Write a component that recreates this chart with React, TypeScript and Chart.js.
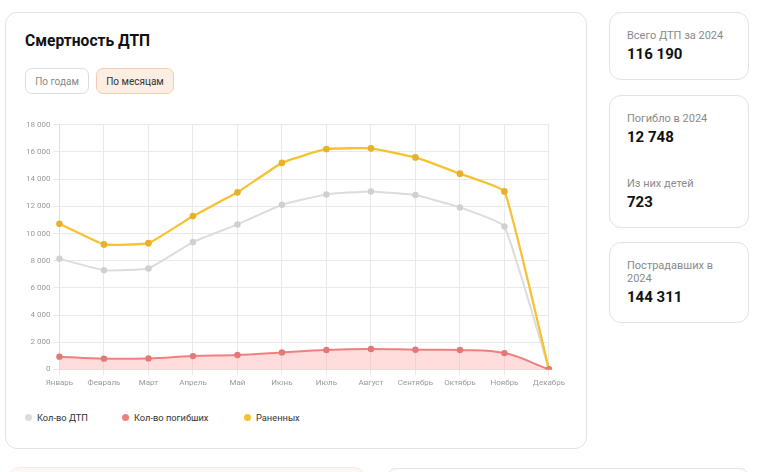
import React, { useEffect, useRef } from "react";
import { Chart, registerables } from "chart.js";

Chart.register(...registerables);

const months = ["Январь", "Февраль", "Март", "Апрель", "Май", "Июнь", "Июль", "Август", "Сентябрь", "Октябрь", "Ноябрь", "Декабрь"];
const accidents = [8140, 7300, 7420, 9370, 10670, 12120, 12880, 13100, 12830, 11920, 10520, 0];
const deaths = [940, 790, 810, 980, 1060, 1250, 1430, 1500, 1450, 1430, 1200, 0];
const injured = [10720, 9200, 9290, 11280, 13030, 15200, 16220, 16270, 15600, 14400, 13100, 0];
const seriesNames = ["Кол-во ДТП", "Кол-во погибших", "Раненных"];
const seriesColors = ["#dcdcdc", "#f08080", "#f6c232"];
const yTicks = [0, 2000, 4000, 6000, 8000, 10000, 12000, 14000, 16000, 18000];

const FONT = "Roboto, 'Noto Sans', sans-serif";

function fmt(v: number): string {
  return String(v).replace(/\B(?=(\d{3})+(?!\d))/g, " ");
}

function ChartBox() {
  const ref = useRef<HTMLCanvasElement | null>(null);
  useEffect(() => {
    if (!ref.current) return;
    const chart = new Chart(ref.current, {
      type: "line",
      data: {
        labels: months,
        datasets: [
          {
            label: seriesNames[0],
            data: accidents,
            order: 2,
            borderColor: seriesColors[0],
            backgroundColor: seriesColors[0],
            pointBackgroundColor: "#d0d0d0",
            pointBorderColor: "#d0d0d0",
            borderWidth: 2,
            pointRadius: 2.2,
            tension: 0.1,
            fill: false,
          },
          {
            label: seriesNames[1],
            data: deaths,
            order: 0,
            borderColor: seriesColors[1],
            backgroundColor: "rgba(255, 170, 170, 0.4)",
            pointBackgroundColor: "#e37878",
            pointBorderColor: "#e37878",
            borderWidth: 2,
            pointRadius: 2.2,
            tension: 0.4,
            fill: "origin",
          },
          {
            label: seriesNames[2],
            data: injured,
            order: 1,
            borderColor: seriesColors[2],
            backgroundColor: seriesColors[2],
            pointBackgroundColor: "#e6b22c",
            pointBorderColor: "#e6b22c",
            borderWidth: 2.3,
            pointRadius: 2.2,
            tension: 0.1,
            fill: false,
          },
        ],
      },
      options: {
        animation: false,
        responsive: false,
        maintainAspectRatio: false,
        layout: { padding: 0 },
        plugins: {
          tooltip: { enabled: false },
          legend: { display: false },
        },
        scales: {
          x: {
            grid: { color: "#e9e9e9", tickLength: 6 },
            border: { color: "#e0e0e0" },
            ticks: { color: "#999", font: { family: FONT, size: 8 }, maxRotation: 0, autoSkip: false, padding: 3 },
          },
          y: {
            min: 0,
            max: 18000,
            afterBuildTicks: (axis: any) => {
              axis.ticks = yTicks.map((v) => ({ value: v }));
            },
            grid: { color: "#e9e9e9", tickLength: 6 },
            border: { color: "#e0e0e0" },
            ticks: {
              color: "#999",
              font: { family: FONT, size: 8 },
              padding: 3,
              callback: (v: any) => fmt(Number(v)),
            },
          },
        },
      },
    });
    return () => chart.destroy();
  }, []);
  return (
    <canvas
      ref={ref}
      width={545}
      height={274}
      style={{ position: "absolute", left: 23, top: 117, width: 545, height: 274 }}
    />
  );
}

const cardStyle: React.CSSProperties = {
  position: "absolute",
  background: "#fff",
  border: "1px solid #e2e2e2",
  borderRadius: 12,
  boxSizing: "border-box",
};

const label: React.CSSProperties = { position: "absolute", left: 17, fontSize: 11, color: "#8a8a8a", lineHeight: "13px" };
const value: React.CSSProperties = { position: "absolute", left: 17, fontSize: 15, fontWeight: 700, color: "#111", lineHeight: "18px" };

const legendX = [29, 126, 248];

export default function App() {
  return (
    <div style={{ fontFamily: FONT }}>
      <div style={{ ...cardStyle, left: 5, top: 12, width: 582, height: 437 }}>
        <div style={{ position: "absolute", left: 19, top: 19, fontSize: 15.6, fontWeight: 700, color: "#111" }}>Смертность ДТП</div>
        <div style={{ position: "absolute", left: 19, top: 55, width: 64, height: 26, boxSizing: "border-box", border: "1px solid #ddd", borderRadius: 7, fontSize: 10, color: "#888", display: "flex", alignItems: "center", justifyContent: "center" }}>По годам</div>
        <div style={{ position: "absolute", left: 90, top: 55, width: 78, height: 26, boxSizing: "border-box", border: "1px solid #f3cdb0", background: "#fdeee3", borderRadius: 7, fontSize: 10, color: "#333", display: "flex", alignItems: "center", justifyContent: "center" }}>По месяцам</div>
      </div>
      <ChartBox />
      {seriesNames.map((n, i) => (
        <div key={n} style={{ position: "absolute", left: legendX[i] - 4, top: 410, height: 14, display: "flex", alignItems: "center", fontSize: 9.3, color: "#333" }}>
          <span style={{ width: 7, height: 7, borderRadius: "50%", background: seriesColors[i], marginRight: 5, display: "inline-block" }} />
          {n}
        </div>
      ))}
      <div style={{ ...cardStyle, left: 609, top: 12, width: 140, height: 68 }}>
        <div style={{ ...label, top: 16 }}>Всего ДТП за 2024</div>
        <div style={{ ...value, top: 32 }}>116 190</div>
      </div>
      <div style={{ ...cardStyle, left: 609, top: 95, width: 140, height: 133 }}>
        <div style={{ ...label, top: 16 }}>Погибло в 2024</div>
        <div style={{ ...value, top: 32 }}>12 748</div>
        <div style={{ ...label, top: 81 }}>Из них детей</div>
        <div style={{ ...value, top: 97 }}>723</div>
      </div>
      <div style={{ ...cardStyle, left: 609, top: 242, width: 140, height: 81 }}>
        <div style={{ ...label, top: 16, width: 110 }}>Пострадавших в 2024</div>
        <div style={{ ...value, top: 45 }}>144 311</div>
      </div>
      <div style={{ position: "absolute", left: 8, top: 467, width: 358, height: 40, background: "#fff6f6", border: "1px solid #fbe9e9", borderRadius: 12, boxSizing: "border-box" }} />
      <div style={{ ...cardStyle, left: 385, top: 468, width: 366, height: 40 }} />
    </div>
  );
}
